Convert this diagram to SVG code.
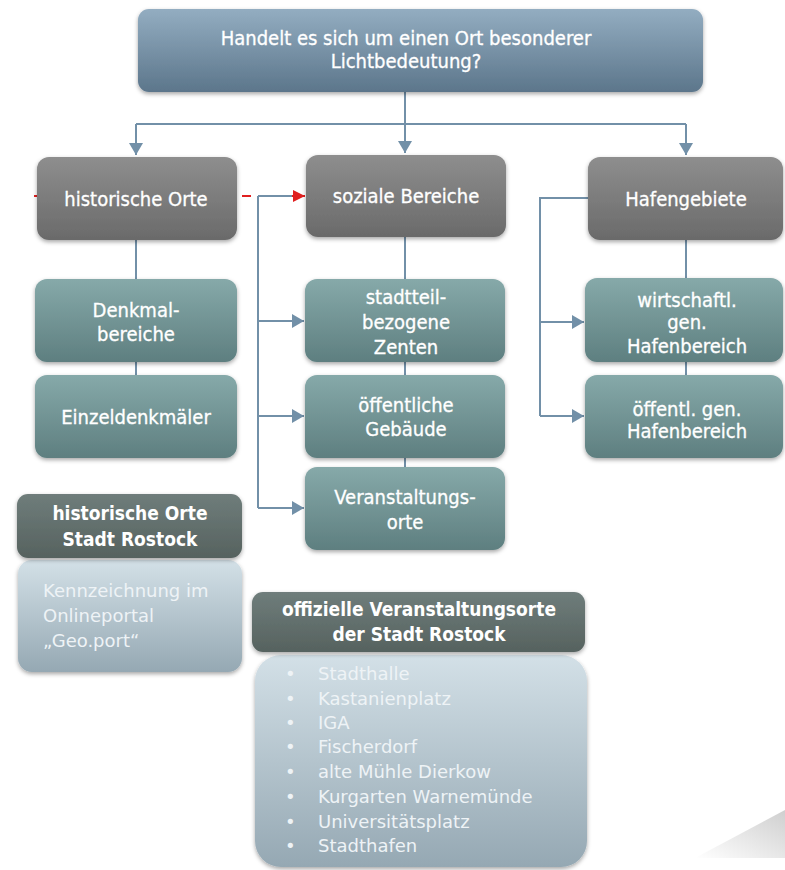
<svg xmlns="http://www.w3.org/2000/svg" width="785" height="870" viewBox="0 0 785 870">
  <defs>
    <linearGradient id="gTop" x1="0" y1="0" x2="0" y2="1">
      <stop offset="0" stop-color="#93adc1"/>
      <stop offset="1" stop-color="#5c768b"/>
    </linearGradient>
    <linearGradient id="gGrey" x1="0" y1="0" x2="0" y2="1">
      <stop offset="0" stop-color="#8e8e8e"/>
      <stop offset="1" stop-color="#6a6a6a"/>
    </linearGradient>
    <linearGradient id="gTeal" x1="0" y1="0" x2="0" y2="1">
      <stop offset="0" stop-color="#86a9a9"/>
      <stop offset="1" stop-color="#5e7f80"/>
    </linearGradient>
    <linearGradient id="gHead" x1="0" y1="0" x2="0" y2="1">
      <stop offset="0" stop-color="#6f7d7b"/>
      <stop offset="1" stop-color="#56625f"/>
    </linearGradient>
    <linearGradient id="gLight" x1="0" y1="0" x2="0" y2="1">
      <stop offset="0" stop-color="#d3e0e7"/>
      <stop offset="1" stop-color="#95a8b3"/>
    </linearGradient>
    <linearGradient id="gCurl" x1="0" y1="1" x2="1" y2="0">
      <stop offset="0" stop-color="#ffffff"/>
      <stop offset="1" stop-color="#cfcfcf"/>
    </linearGradient>
    <filter id="shadow" x="-10%" y="-10%" width="120%" height="130%">
      <feDropShadow dx="0" dy="2" stdDeviation="2" flood-color="#000" flood-opacity="0.35"/>
    </filter>
    <marker id="arrow" viewBox="0 0 10 10" refX="10" refY="5" markerWidth="6" markerHeight="7" orient="auto" markerUnits="strokeWidth" preserveAspectRatio="none">
      <path d="M0,0 L10,5 L0,10 z" fill="#7290a8"/>
    </marker>
    <marker id="arrowRed" viewBox="0 0 10 10" refX="10" refY="5" markerWidth="6" markerHeight="6" orient="auto" markerUnits="strokeWidth">
      <path d="M0,0 L10,5 L0,10 z" fill="#e02020"/>
    </marker>
  </defs>
  <style>
    .lbl { font-family: "DejaVu Sans Condensed", "DejaVu Sans", sans-serif; font-stretch: condensed; font-size: 20px; fill: #ffffff; stroke: #ffffff; stroke-width: 0.3; text-anchor: middle; }
    .hdr { font-family: "DejaVu Sans Condensed", "DejaVu Sans", sans-serif; font-stretch: condensed; font-weight: bold; font-size: 19px; fill: #ffffff; text-anchor: middle; }
    .lst { font-family: "DejaVu Sans", sans-serif; font-size: 18px; fill: #eef3f6; }
    .con { fill: none; stroke: #7290a8; stroke-width: 2; }
    .dash { fill: none; stroke: #e02020; stroke-width: 2; }
  </style>

  <rect width="785" height="870" fill="#ffffff"/>

  <!-- decorative page curl, bottom right -->
  <polygon points="695,858 785,810 785,858" fill="url(#gCurl)"/>

  <!-- connectors -->
  <g id="connectors">
    <path class="con" d="M405,92 V124"/>
    <path class="con" d="M136,124 H686"/>
    <path class="con" d="M136,124 V155" marker-end="url(#arrow)"/>
    <path class="con" d="M405,124 V153" marker-end="url(#arrow)"/>
    <path class="con" d="M686,124 V155" marker-end="url(#arrow)"/>
    <!-- left column -->
    <path class="con" d="M136,240 V279"/>
    <path class="con" d="M136,362 V375"/>
    <!-- middle column -->
    <path class="con" d="M405,237 V279"/>
    <path class="con" d="M405,362 V375"/>
    <path class="con" d="M405,458 V467"/>
    <path class="con" d="M258,196 V508"/>
    <path class="con" d="M258,196 H295"/>
    <path class="con" d="M258,321 H304" marker-end="url(#arrow)"/>
    <path class="con" d="M258,416 H304" marker-end="url(#arrow)"/>
    <path class="con" d="M258,508 H304" marker-end="url(#arrow)"/>
    <!-- right column -->
    <path class="con" d="M686,240 V278"/>
    <path class="con" d="M686,362 V375"/>
    <path class="con" d="M588,198 H540 V416"/>
    <path class="con" d="M540,322 H584" marker-end="url(#arrow)"/>
    <path class="con" d="M540,416 H584" marker-end="url(#arrow)"/>
    <!-- red dashed link -->
    <path class="dash" d="M34,196 H37"/>
    <path class="dash" d="M242,196 H251"/>
    <path class="dash" d="M292,196 H305" marker-end="url(#arrowRed)"/>
  </g>

  <!-- question -->
  <g id="frage">
    <rect x="138" y="9" width="565" height="83" rx="11" fill="url(#gTop)" filter="url(#shadow)"/>
    <text class="lbl" x="406" y="45" font-size="21.5">Handelt es sich um einen Ort besonderer</text>
    <text class="lbl" x="406" y="68" font-size="21.5">Lichtbedeutung?</text>
  </g>

  <!-- level 1 -->
  <g id="historische-orte">
    <rect x="37" y="157" width="200" height="83" rx="12" fill="url(#gGrey)" filter="url(#shadow)"/>
    <text class="lbl" x="136" y="206">historische Orte</text>
  </g>
  <g id="soziale-bereiche">
    <rect x="306" y="155" width="200" height="82" rx="12" fill="url(#gGrey)" filter="url(#shadow)"/>
    <text class="lbl" x="406" y="203">soziale Bereiche</text>
  </g>
  <g id="hafengebiete">
    <rect x="588" y="157" width="195" height="83" rx="12" fill="url(#gGrey)" filter="url(#shadow)"/>
    <text class="lbl" x="686" y="206">Hafengebiete</text>
  </g>

  <!-- historische Orte: children -->
  <g id="denkmalbereiche">
    <rect x="35" y="279" width="202" height="83" rx="12" fill="url(#gTeal)" filter="url(#shadow)"/>
    <text class="lbl" x="136" y="317">Denkmal-</text>
    <text class="lbl" x="136" y="341">bereiche</text>
  </g>
  <g id="einzeldenkmaeler">
    <rect x="35" y="375" width="202" height="83" rx="12" fill="url(#gTeal)" filter="url(#shadow)"/>
    <text class="lbl" x="136" y="424">Einzeldenkmäler</text>
  </g>

  <!-- soziale Bereiche: children -->
  <g id="stadtteilzentren">
    <rect x="305" y="279" width="200" height="83" rx="12" fill="url(#gTeal)" filter="url(#shadow)"/>
    <text class="lbl" x="406" y="304">stadtteil-</text>
    <text class="lbl" x="406" y="329">bezogene</text>
    <text class="lbl" x="406" y="354">Zenten</text>
  </g>
  <g id="oeffentliche-gebaeude">
    <rect x="305" y="375" width="200" height="83" rx="12" fill="url(#gTeal)" filter="url(#shadow)"/>
    <text class="lbl" x="406" y="412">öffentliche</text>
    <text class="lbl" x="406" y="436">Gebäude</text>
  </g>
  <g id="veranstaltungsorte">
    <rect x="305" y="467" width="200" height="83" rx="12" fill="url(#gTeal)" filter="url(#shadow)"/>
    <text class="lbl" x="405" y="504">Veranstaltungs-</text>
    <text class="lbl" x="405" y="529">orte</text>
  </g>

  <!-- Hafengebiete: children -->
  <g id="wirtschaftl-hafen">
    <rect x="585" y="278" width="198" height="84" rx="12" fill="url(#gTeal)" filter="url(#shadow)"/>
    <text class="lbl" x="687" y="307" font-size="18.5">wirtschaftl.</text>
    <text class="lbl" x="687" y="329" font-size="18.5">gen.</text>
    <text class="lbl" x="687" y="353" font-size="19.5">Hafenbereich</text>
  </g>
  <g id="oeffentl-hafen">
    <rect x="585" y="375" width="198" height="83" rx="12" fill="url(#gTeal)" filter="url(#shadow)"/>
    <text class="lbl" x="687" y="416">öffentl. gen.</text>
    <text class="lbl" x="687" y="438">Hafenbereich</text>
  </g>

  <!-- info: historische Orte Stadt Rostock -->
  <g id="info-historisch">
    <rect x="18" y="560" width="224" height="112" rx="14" fill="url(#gLight)" filter="url(#shadow)"/>
    <rect x="17" y="494" width="225" height="64" rx="11" fill="url(#gHead)" filter="url(#shadow)"/>
    <text class="hdr" x="130" y="520">historische Orte</text>
    <text class="hdr" x="130" y="546">Stadt Rostock</text>
    <text class="lst" x="43" y="597">Kennzeichnung im</text>
    <text class="lst" x="43" y="622">Onlineportal</text>
    <text class="lst" x="43" y="647">„Geo.port“</text>
  </g>

  <!-- info: offizielle Veranstaltungsorte -->
  <g id="info-veranstaltung">
    <rect x="255" y="655" width="332" height="212" rx="26" fill="url(#gLight)" filter="url(#shadow)"/>
    <rect x="252" y="592" width="333" height="60" rx="11" fill="url(#gHead)" filter="url(#shadow)"/>
    <text class="hdr" x="419" y="616">offizielle Veranstaltungsorte</text>
    <text class="hdr" x="419" y="641">der Stadt Rostock</text>
    <text class="lst" x="285" y="680">•</text><text class="lst" x="318" y="680">Stadthalle</text>
    <text class="lst" x="285" y="705">•</text><text class="lst" x="318" y="705">Kastanienplatz</text>
    <text class="lst" x="285" y="729">•</text><text class="lst" x="318" y="729">IGA</text>
    <text class="lst" x="285" y="753">•</text><text class="lst" x="318" y="753">Fischerdorf</text>
    <text class="lst" x="285" y="778">•</text><text class="lst" x="318" y="778">alte Mühle Dierkow</text>
    <text class="lst" x="285" y="803">•</text><text class="lst" x="318" y="803">Kurgarten Warnemünde</text>
    <text class="lst" x="285" y="828">•</text><text class="lst" x="318" y="828">Universitätsplatz</text>
    <text class="lst" x="285" y="852">•</text><text class="lst" x="318" y="852">Stadthafen</text>
  </g>
</svg>
